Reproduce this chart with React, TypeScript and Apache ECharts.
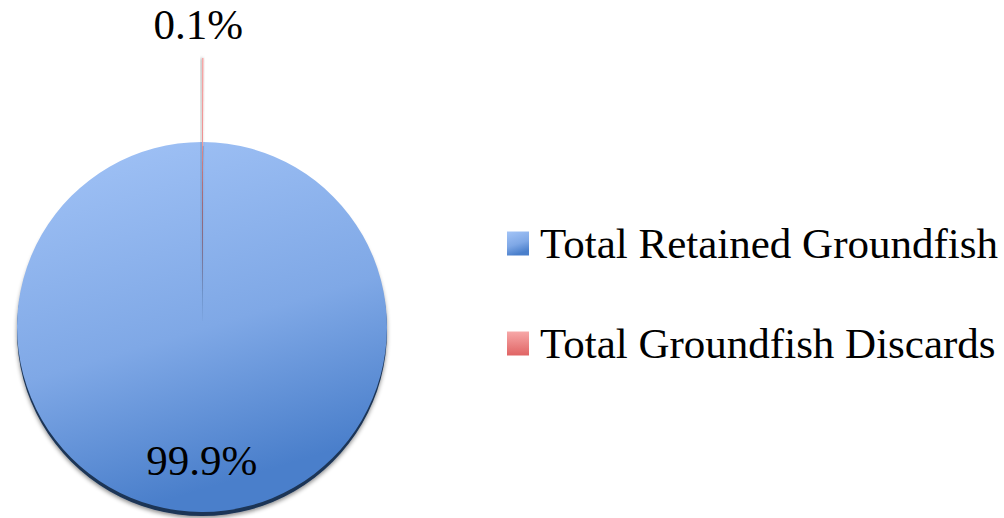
import React, { useEffect, useRef } from "react";
import * as echarts from "echarts";

const categories = ["Total Retained Groundfish", "Total Groundfish Discards"];
const values = [99.9, 0.1];

const FONT = "'Liberation Serif', 'Times New Roman', serif";

const blueGrad = {
  type: "linear", x: 0, y: 0, x2: 0.3, y2: 1,
  colorStops: [
    { offset: 0, color: "#a3c4f7" },
    { offset: 0.6, color: "#7fa8e6" },
    { offset: 1, color: "#4a7fcb" },
  ],
};
const redGrad = {
  type: "linear", x: 0, y: 0, x2: 0, y2: 1,
  colorStops: [
    { offset: 0, color: "#f7a8a8" },
    { offset: 1, color: "#e06464" },
  ],
};

export default function App() {
  const ref = useRef<HTMLDivElement>(null);
  useEffect(() => {
    const chart = echarts.init(ref.current!, null, { renderer: "svg" });
    chart.setOption({
      animation: false,
      legend: {
        orient: "vertical",
        left: 502,
        top: 217,
        itemWidth: 22,
        itemHeight: 24,
        itemGap: 57,
        icon: "rect",
        data: categories,
        textStyle: { fontFamily: FONT, fontSize: 43, lineHeight: 43, color: "#000", padding: [0, 0, 0, 6] },
      },
      series: [
        {
          // dark bevel edge under the pie
          type: "pie",
          center: [202, 331],
          radius: 185,
          silent: true,
          z: 1,
          label: { show: false },
          labelLine: { show: false },
          itemStyle: {
            color: "#1c3556",
            shadowColor: "rgba(0,0,0,0.45)",
            shadowBlur: 4,
            shadowOffsetY: 2,
          },
          data: [{ name: "edge", value: values[0] + values[1] }],
        },
        {
          type: "pie",
          center: [202, 327],
          radius: 185,
          startAngle: 90,
          clockwise: true,
          silent: true,
          z: 2,
          labelLine: { show: false },
          data: [
            { name: "gapA", value: values[1], itemStyle: { color: "rgba(0,0,0,0)" }, label: { show: false } },
            {
              name: categories[0],
              value: values[0],
              itemStyle: { color: blueGrad },
              label: {
                show: true,
                position: "inside",
                formatter: "{d}%",
                fontFamily: FONT,
                fontSize: 43,
                color: "#000",
                offset: [0, 38],
              },
            },
          ],
        },
        {
          type: "pie",
          center: [202, 296],
          radius: 238,
          startAngle: 90,
          clockwise: true,
          silent: true,
          z: 3,
          labelLine: { show: false, length: 0, length2: 0 },
          data: [
            {
              name: categories[1],
              value: values[1],
              itemStyle: { color: redGrad, shadowColor: "rgba(0,0,0,0.5)", shadowBlur: 3, shadowOffsetX: -1 },
              label: {
                show: true,
                position: "inside",
                formatter: "{d}%",
                fontFamily: FONT,
                fontSize: 43,
                color: "#000",
                rotate: 0,
                offset: [-4, -150],
              },
            },
            { name: "gapB", value: values[0], itemStyle: { color: "rgba(0,0,0,0)" }, label: { show: false } },
          ],
        },
      ],
    });
    return () => chart.dispose();
  }, []);
  return (
    <div
      ref={ref}
      style={{ position: "fixed", left: 0, top: 0, width: 1004, height: 518, background: "#fff" }}
    />
  );
}
